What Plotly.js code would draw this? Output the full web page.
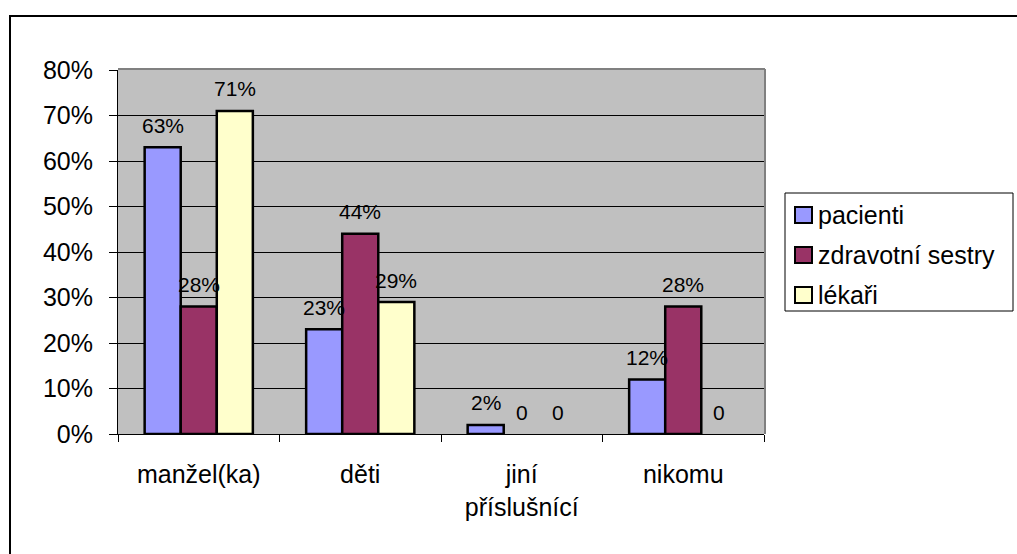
<!DOCTYPE html>
<html>
<head>
<meta charset="utf-8">
<script src="https://cdn.plot.ly/plotly-3.0.1.min.js"></script>
<style>
html, body { margin: 0; padding: 0; background: #ffffff; }
#chart { width: 1017px; height: 554px; }
</style>
</head>
<body>
<div id="chart"></div>
<script>
const categories = ["manžel(ka)", "děti", "jiní<br>příslušnící", "nikomu"];
const seriesNames = ["pacienti", "zdravotní sestry", "lékaři"];
const pacienti = [0.63, 0.23, 0.02, 0.12];
const zdravotniSestry = [0.28, 0.44, 0, 0.28];
const lekari = [0.71, 0.29, 0, 0];
const seriesValues = [pacienti, zdravotniSestry, lekari];
const seriesColors = ["#9999FF", "#993366", "#FFFFCC"];
const yTickVals = [0, 0.1, 0.2, 0.3, 0.4, 0.5, 0.6, 0.7, 0.8];
const yTickText = ["0%", "10%", "20%", "30%", "40%", "50%", "60%", "70%", "80%"];

const FONT = "Arial, 'Liberation Sans', sans-serif";
const W = 1017, H = 554;
const M = { l: 118, r: 253, t: 70, b: 120 };
const PW = W - M.l - M.r, PH = H - M.t - M.b;
const px = x => (x - M.l) / PW;          // page pixel x -> paper
const py = y => (H - M.b - y) / PH;      // page pixel y -> paper

const bargap = 0.33;
const barW = (1 - bargap) / seriesNames.length;

function labelOf(v) {
  return v === 0 ? "0" : Math.round(v * 100) + "%";
}

const traces = seriesNames.map((name, i) => ({
  type: "bar",
  name: name,
  x: categories,
  y: seriesValues[i],
  marker: {
    color: seriesColors[i],
    line: { color: "#000000", width: seriesValues[i].map(v => v === 0 ? 0 : 2.5) }
  },
  hoverinfo: "skip",
  showlegend: false
}));

const annotations = [];
seriesValues.forEach((vals, i) => {
  vals.forEach((v, j) => {
    annotations.push({
      x: j + (i - (seriesNames.length - 1) / 2) * barW,
      y: v,
      xref: "x",
      yref: "y",
      text: labelOf(v),
      showarrow: false,
      yanchor: "middle",
      xanchor: "center",
      yshift: 22,
      font: { family: FONT, size: 21, color: "#000000" }
    });
  });
});

// custom legend (box, swatches, labels) built from the series arrays
const shapes = [
  { type: "line", xref: "paper", yref: "paper", x0: 0, x1: px(M.l + PW + 1), y0: py(M.t - 1), y1: py(M.t - 1), line: { color: "#808080", width: 2 }, layer: "above" },
  { type: "line", xref: "paper", yref: "paper", x0: px(M.l + PW + 1), x1: px(M.l + PW + 1), y0: 0, y1: py(M.t - 1), line: { color: "#808080", width: 2 }, layer: "above" },
  { type: "rect", xref: "paper", yref: "paper", x0: px(10), x1: px(1030), y0: py(570), y1: py(16), line: { color: "#000000", width: 2 }, fillcolor: "rgba(0,0,0,0)", layer: "above" },
  { type: "rect", xref: "paper", yref: "paper", x0: px(785), x1: px(1013), y0: py(311), y1: py(193), line: { color: "#000000", width: 1 }, fillcolor: "#ffffff", layer: "above" }
];
seriesNames.forEach((name, i) => {
  const cy = 215 + 40 * i;
  shapes.push({
    type: "rect", xref: "paper", yref: "paper",
    x0: px(795), x1: px(812), y0: py(cy + 8), y1: py(cy - 8),
    line: { color: "#000000", width: 2 }, fillcolor: seriesColors[i], layer: "above"
  });
  annotations.push({
    xref: "paper", yref: "paper", x: px(816), y: py(cy),
    xanchor: "left", yanchor: "middle", showarrow: false,
    text: name, font: { family: FONT, size: 25, color: "#000000" }
  });
});

const layout = {
  width: W,
  height: H,
  margin: { l: M.l, r: M.r, t: M.t, b: M.b, pad: 0 },
  paper_bgcolor: "#ffffff",
  plot_bgcolor: "#C0C0C0",
  barmode: "group",
  bargap: bargap,
  bargroupgap: 0,
  showlegend: false,
  font: { family: FONT, size: 25, color: "#000000" },
  xaxis: {
    type: "category",
    showgrid: false,
    showline: true,
    linecolor: "#000000",
    linewidth: 1,
    ticks: "outside",
    tickson: "boundaries",
    ticklen: 7,
    tickcolor: "#000000",
    tickwidth: 1,
    ticklabelstandoff: 18,
    tickfont: { family: FONT, size: 25, color: "#000000" },
    zeroline: false,
    fixedrange: true
  },
  yaxis: {
    range: [0, 0.8],
    tickvals: yTickVals,
    ticktext: yTickText,
    showgrid: true,
    gridcolor: "#000000",
    gridwidth: 1,
    showline: true,
    linecolor: "#000000",
    linewidth: 1,
    ticks: "outside",
    ticklen: 8,
    tickcolor: "#000000",
    tickwidth: 1,
    ticklabelstandoff: 11,
    tickfont: { family: FONT, size: 25, color: "#000000" },
    zeroline: false,
    fixedrange: true
  },
  annotations: annotations,
  shapes: shapes
};

Plotly.newPlot("chart", traces, layout, { displayModeBar: false, staticPlot: true });
</script>
</body>
</html>
